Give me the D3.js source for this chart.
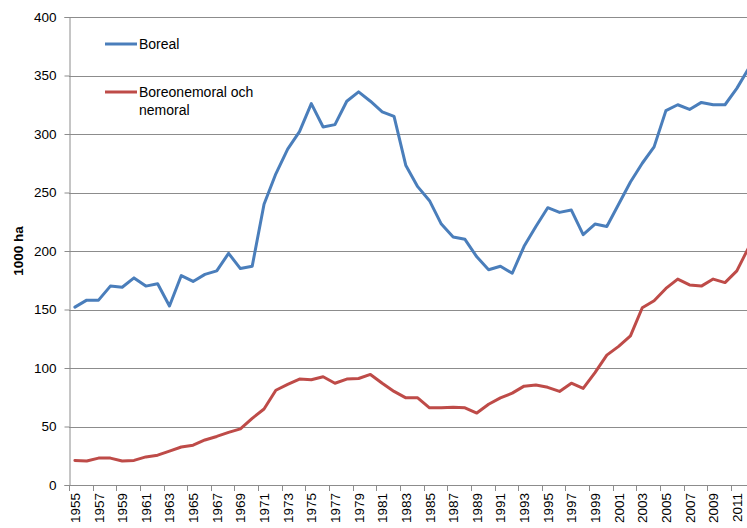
<!DOCTYPE html>
<html>
<head>
<meta charset="utf-8">
<script src="https://cdn.jsdelivr.net/npm/d3@7"></script>
<style>
  body { margin: 0; background: #fff; }
  svg { display: block; overflow: hidden; }
  text { font-family: "Liberation Sans", Arial, sans-serif; fill: #000; }
</style>
</head>
<body>
<div id="chart"></div>
<script>
// Years on the category axis
const years = [1955, 1956, 1957, 1958, 1959, 1960, 1961, 1962, 1963, 1964,
  1965, 1966, 1967, 1968, 1969, 1970, 1971, 1972, 1973, 1974,
  1975, 1976, 1977, 1978, 1979, 1980, 1981, 1982, 1983, 1984,
  1985, 1986, 1987, 1988, 1989, 1990, 1991, 1992, 1993, 1994,
  1995, 1996, 1997, 1998, 1999, 2000, 2001, 2002, 2003, 2004,
  2005, 2006, 2007, 2008, 2009, 2010, 2011, 2012];

// Series values (1000 ha)
const boreal = [152, 158, 158, 170, 169, 177, 170, 172, 153, 179,
  174, 180, 183, 198, 185, 187, 240, 266, 287, 302,
  326, 306, 308, 328, 336, 328, 319, 315, 273, 255,
  243, 223, 212, 210, 195, 184, 187, 181, 204, 221,
  237, 233, 235, 214, 223, 221, 240, 259, 275, 289,
  320, 325, 321, 327, 325, 325, 339, 356];

const nemoral = [21, 20.5, 23, 23, 20.5, 21, 24, 25.5, 29, 32.5,
  34, 38.5, 41.5, 45, 48, 57, 65, 81, 86, 90.5,
  90, 92.5, 87, 90.5, 91, 94.5, 87, 80, 74.5, 74.5,
  66, 66, 66.5, 66, 61.5, 69, 74.5, 78.5, 84.5, 85.5,
  83.5, 80, 87, 82.5, 96, 111, 118.5, 127.5, 151.5, 157.5,
  168, 176, 171, 170, 176, 173, 183, 203];

const yTicks = [0, 50, 100, 150, 200, 250, 300, 350, 400];

const seriesNames = ["Boreal", "Boreonemoral och nemoral"];
const colors = ["#4a7ebb", "#be4b48"];

// Dimensions
const width = 747,
  height = 528;
const plotLeft = 69,
  plotTop = 17,
  plotBottom = 485;
const step = 11.82;

const svg = d3
  .select("#chart")
  .append("svg")
  .attr("width", width)
  .attr("height", height);

// Scales
const x = d3
  .scaleBand()
  .domain(years)
  .range([plotLeft, plotLeft + years.length * step])
  .paddingInner(0)
  .paddingOuter(0);

const y = d3.scaleLinear().domain([0, 400]).range([plotBottom, plotTop]);

const cx = (yr) => x(yr) + x.bandwidth() / 2;

// Gridlines
svg
  .append("g")
  .selectAll("line")
  .data(yTicks.filter((d) => d > 0))
  .join("line")
  .attr("x1", plotLeft)
  .attr("x2", width)
  .attr("y1", (d) => Math.round(y(d)) + 0.5)
  .attr("y2", (d) => Math.round(y(d)) + 0.5)
  .attr("stroke", "#8c8c8c")
  .attr("stroke-width", 1);

// Y axis
const yAxis = svg
  .append("g")
  .attr("transform", `translate(${plotLeft + 0.5},0)`)
  .call(d3.axisLeft(y).tickValues(yTicks).tickSize(5).tickPadding(8));
yAxis.select(".domain").attr("stroke", "#8c8c8c");
yAxis.selectAll(".tick line").attr("stroke", "#8c8c8c");
yAxis
  .selectAll(".tick text")
  .style("font-size", "13.5px")
  .style("font-family", "'Liberation Sans', Arial, sans-serif")
  .attr("fill", "#000");

// X axis: baseline, ticks every second category boundary
svg
  .append("line")
  .attr("x1", plotLeft)
  .attr("x2", width)
  .attr("y1", plotBottom + 0.5)
  .attr("y2", plotBottom + 0.5)
  .attr("stroke", "#8c8c8c");

svg
  .append("g")
  .selectAll("line")
  .data(years.filter((d, i) => i % 2 === 0))
  .join("line")
  .attr("x1", (d) => Math.round(x(d)) + 0.5)
  .attr("x2", (d) => Math.round(x(d)) + 0.5)
  .attr("y1", plotBottom)
  .attr("y2", plotBottom + 6)
  .attr("stroke", "#8c8c8c");

svg
  .append("g")
  .selectAll("text")
  .data(years.filter((d, i) => i % 2 === 0))
  .join("text")
  .attr("transform", (d) => `translate(${cx(d) + 5},${plotBottom + 8}) rotate(-90)`)
  .attr("text-anchor", "end")
  .style("font-size", "13.5px")
  .text((d) => d);

// Y axis title
svg
  .append("text")
  .attr("transform", `translate(23,${(plotTop + plotBottom) / 2}) rotate(-90)`)
  .attr("text-anchor", "middle")
  .style("font-size", "13.5px")
  .style("font-weight", "bold")
  .text("1000 ha");

// Lines
const line = d3
  .line()
  .x((d, i) => cx(years[i]))
  .y((d) => y(d));

[boreal, nemoral].forEach((s, i) => {
  svg
    .append("path")
    .datum(s)
    .attr("d", line)
    .attr("fill", "none")
    .attr("stroke", colors[i])
    .attr("stroke-width", 3)
    .attr("stroke-linejoin", "round")
    .attr("stroke-linecap", "round");
});

// Legend
const legend = svg.append("g");
const legendY = [44, 92];
legend
  .selectAll("line")
  .data(seriesNames)
  .join("line")
  .attr("x1", 105)
  .attr("x2", 137)
  .attr("y1", (d, i) => legendY[i])
  .attr("y2", (d, i) => legendY[i])
  .attr("stroke", (d, i) => colors[i])
  .attr("stroke-width", 3);

legend
  .append("text")
  .attr("x", 139)
  .attr("y", legendY[0] + 5)
  .style("font-size", "14px")
  .text(seriesNames[0]);

legend
  .append("text")
  .attr("x", 139)
  .attr("y", legendY[1] + 5)
  .style("font-size", "14px")
  .text("Boreonemoral och");

legend
  .append("text")
  .attr("x", 139)
  .attr("y", legendY[1] + 23)
  .style("font-size", "14px")
  .text("nemoral");
</script>
</body>
</html>
